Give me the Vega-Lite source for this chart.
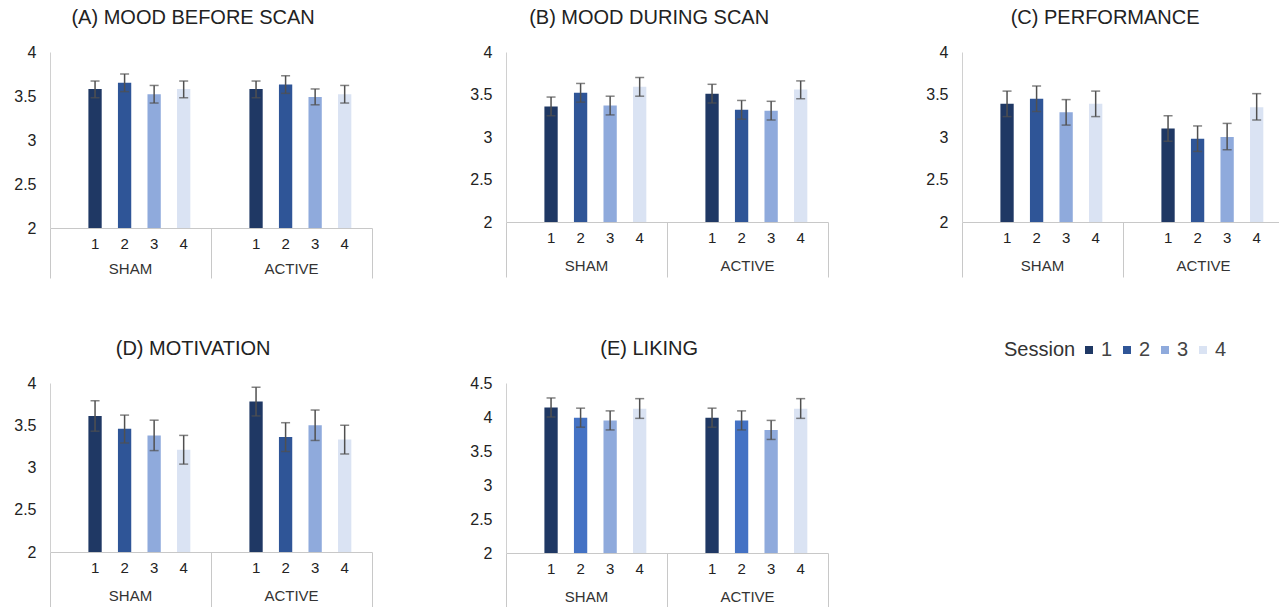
{
  "$schema": "https://vega.github.io/schema/vega-lite/v6.json",
  "padding": {"left": 13, "top": 8, "right": 0, "bottom": 0},
  "data": {"values": [
    {"panel":"A","group":"SHAM","session":"1","mean":3.58,"lo":3.48,"hi":3.67},
    {"panel":"A","group":"SHAM","session":"2","mean":3.65,"lo":3.55,"hi":3.75},
    {"panel":"A","group":"SHAM","session":"3","mean":3.52,"lo":3.42,"hi":3.62},
    {"panel":"A","group":"SHAM","session":"4","mean":3.58,"lo":3.48,"hi":3.67},
    {"panel":"A","group":"ACTIVE","session":"1","mean":3.58,"lo":3.48,"hi":3.67},
    {"panel":"A","group":"ACTIVE","session":"2","mean":3.63,"lo":3.53,"hi":3.73},
    {"panel":"A","group":"ACTIVE","session":"3","mean":3.49,"lo":3.40,"hi":3.58},
    {"panel":"A","group":"ACTIVE","session":"4","mean":3.52,"lo":3.42,"hi":3.62},
    {"panel":"B","group":"SHAM","session":"1","mean":3.36,"lo":3.25,"hi":3.47},
    {"panel":"B","group":"SHAM","session":"2","mean":3.52,"lo":3.41,"hi":3.63},
    {"panel":"B","group":"SHAM","session":"3","mean":3.37,"lo":3.26,"hi":3.48},
    {"panel":"B","group":"SHAM","session":"4","mean":3.59,"lo":3.48,"hi":3.70},
    {"panel":"B","group":"ACTIVE","session":"1","mean":3.51,"lo":3.40,"hi":3.62},
    {"panel":"B","group":"ACTIVE","session":"2","mean":3.32,"lo":3.21,"hi":3.43},
    {"panel":"B","group":"ACTIVE","session":"3","mean":3.31,"lo":3.20,"hi":3.42},
    {"panel":"B","group":"ACTIVE","session":"4","mean":3.56,"lo":3.45,"hi":3.66},
    {"panel":"C","group":"SHAM","session":"1","mean":3.39,"lo":3.24,"hi":3.54},
    {"panel":"C","group":"SHAM","session":"2","mean":3.45,"lo":3.30,"hi":3.60},
    {"panel":"C","group":"SHAM","session":"3","mean":3.29,"lo":3.14,"hi":3.44},
    {"panel":"C","group":"SHAM","session":"4","mean":3.39,"lo":3.24,"hi":3.54},
    {"panel":"C","group":"ACTIVE","session":"1","mean":3.10,"lo":2.95,"hi":3.25},
    {"panel":"C","group":"ACTIVE","session":"2","mean":2.98,"lo":2.83,"hi":3.13},
    {"panel":"C","group":"ACTIVE","session":"3","mean":3.00,"lo":2.85,"hi":3.16},
    {"panel":"C","group":"ACTIVE","session":"4","mean":3.35,"lo":3.20,"hi":3.51},
    {"panel":"D","group":"SHAM","session":"1","mean":3.61,"lo":3.43,"hi":3.79},
    {"panel":"D","group":"SHAM","session":"2","mean":3.46,"lo":3.29,"hi":3.62},
    {"panel":"D","group":"SHAM","session":"3","mean":3.38,"lo":3.20,"hi":3.56},
    {"panel":"D","group":"SHAM","session":"4","mean":3.21,"lo":3.04,"hi":3.38},
    {"panel":"D","group":"ACTIVE","session":"1","mean":3.78,"lo":3.61,"hi":3.95},
    {"panel":"D","group":"ACTIVE","session":"2","mean":3.36,"lo":3.19,"hi":3.53},
    {"panel":"D","group":"ACTIVE","session":"3","mean":3.50,"lo":3.32,"hi":3.68},
    {"panel":"D","group":"ACTIVE","session":"4","mean":3.33,"lo":3.16,"hi":3.50},
    {"panel":"E","group":"SHAM","session":"1","mean":4.14,"lo":4.00,"hi":4.28},
    {"panel":"E","group":"SHAM","session":"2","mean":3.99,"lo":3.85,"hi":4.13},
    {"panel":"E","group":"SHAM","session":"3","mean":3.95,"lo":3.81,"hi":4.09},
    {"panel":"E","group":"SHAM","session":"4","mean":4.12,"lo":3.98,"hi":4.27},
    {"panel":"E","group":"ACTIVE","session":"1","mean":3.99,"lo":3.85,"hi":4.13},
    {"panel":"E","group":"ACTIVE","session":"2","mean":3.95,"lo":3.81,"hi":4.09},
    {"panel":"E","group":"ACTIVE","session":"3","mean":3.81,"lo":3.67,"hi":3.95},
    {"panel":"E","group":"ACTIVE","session":"4","mean":4.12,"lo":3.98,"hi":4.27}
  ]},
  "columns": 3,
  "spacing": {"row": 60, "column": 96},
  "concat": [
    {
      "title": "(A) MOOD BEFORE SCAN",
      "width": 322, "height": 176,
      "transform": [{"filter": "datum.panel === 'A'"}],
      "encoding": {"x": {"field": "group", "type": "nominal", "sort": ["SHAM","ACTIVE"], "scale": {"paddingInner": 0, "paddingOuter": 0}, "axis": {"title": null, "labels": false, "tickBand": "extent", "tickSize": 50, "tickColor": "#c8c8c8", "domainColor": "#c8c8c8"}}},
      "layer": [
        {"mark": {"type": "bar"}, "encoding": {
          "xOffset": {"field": "session", "type": "nominal", "scale": {"paddingInner": 0.55, "paddingOuter": 1.05, "align": 0.65}},
          "y": {"field": "mean", "type": "quantitative", "title": null, "scale": {"domain": [2, 4], "nice": false, "zero": false}, "axis": {"values": [2, 2.5, 3, 3.5, 4], "labelExpr": "'' + datum.value"}},
          "y2": {"datum": 2},
          "color": {"condition": {"test": "datum.panel === 'E' && datum.session === '2'", "value": "#4472c4"}, "field": "session", "type": "nominal", "title": "Session", "scale": {"domain": ["1","2","3","4"], "range": ["#1f3864","#2f5597","#8faadc","#dae3f3"]}}}},
        {"mark": {"type": "rule", "color": "#505050", "strokeWidth": 1.5}, "encoding": {"xOffset": {"field": "session", "type": "nominal"}, "y": {"field": "lo", "type": "quantitative", "title": null}, "y2": {"field": "hi"}}},
        {"mark": {"type": "tick", "color": "#505050", "thickness": 1.5, "size": 9}, "encoding": {"xOffset": {"field": "session", "type": "nominal"}, "y": {"field": "lo", "type": "quantitative", "title": null}}},
        {"mark": {"type": "tick", "color": "#505050", "thickness": 1.5, "size": 9}, "encoding": {"xOffset": {"field": "session", "type": "nominal"}, "y": {"field": "hi", "type": "quantitative", "title": null}}},
        {"mark": {"type": "text", "dy": 16, "fontSize": 15, "color": "#222222"}, "encoding": {"xOffset": {"field": "session", "type": "nominal"}, "y": {"datum": 2}, "text": {"field": "session"}}},
        {"transform": [{"filter": "datum.session === '1'"}], "mark": {"type": "text", "dy": 41, "fontSize": 15, "color": "#333333"}, "encoding": {"y": {"datum": 2}, "text": {"field": "group"}}}
      ]
    },
    {
      "title": "(B) MOOD DURING SCAN",
      "width": 322, "height": 170,
      "transform": [{"filter": "datum.panel === 'B'"}],
      "encoding": {"x": {"field": "group", "type": "nominal", "sort": ["SHAM","ACTIVE"], "scale": {"paddingInner": 0, "paddingOuter": 0}, "axis": {"title": null, "labels": false, "tickBand": "extent", "tickSize": 55, "tickColor": "#c8c8c8", "domainColor": "#c8c8c8"}}},
      "layer": [
        {"mark": {"type": "bar"}, "encoding": {
          "xOffset": {"field": "session", "type": "nominal", "scale": {"paddingInner": 0.55, "paddingOuter": 1.05, "align": 0.65}},
          "y": {"field": "mean", "type": "quantitative", "title": null, "scale": {"domain": [2, 4], "nice": false, "zero": false}, "axis": {"values": [2, 2.5, 3, 3.5, 4], "labelExpr": "'' + datum.value"}},
          "y2": {"datum": 2},
          "color": {"condition": {"test": "datum.panel === 'E' && datum.session === '2'", "value": "#4472c4"}, "field": "session", "type": "nominal", "title": "Session", "scale": {"domain": ["1","2","3","4"], "range": ["#1f3864","#2f5597","#8faadc","#dae3f3"]}}}},
        {"mark": {"type": "rule", "color": "#505050", "strokeWidth": 1.5}, "encoding": {"xOffset": {"field": "session", "type": "nominal"}, "y": {"field": "lo", "type": "quantitative", "title": null}, "y2": {"field": "hi"}}},
        {"mark": {"type": "tick", "color": "#505050", "thickness": 1.5, "size": 9}, "encoding": {"xOffset": {"field": "session", "type": "nominal"}, "y": {"field": "lo", "type": "quantitative", "title": null}}},
        {"mark": {"type": "tick", "color": "#505050", "thickness": 1.5, "size": 9}, "encoding": {"xOffset": {"field": "session", "type": "nominal"}, "y": {"field": "hi", "type": "quantitative", "title": null}}},
        {"mark": {"type": "text", "dy": 16, "fontSize": 15, "color": "#222222"}, "encoding": {"xOffset": {"field": "session", "type": "nominal"}, "y": {"datum": 2}, "text": {"field": "session"}}},
        {"transform": [{"filter": "datum.session === '1'"}], "mark": {"type": "text", "dy": 44, "fontSize": 15, "color": "#333333"}, "encoding": {"y": {"datum": 2}, "text": {"field": "group"}}}
      ]
    },
    {
      "title": "(C) PERFORMANCE",
      "width": 322, "height": 170,
      "transform": [{"filter": "datum.panel === 'C'"}],
      "encoding": {"x": {"field": "group", "type": "nominal", "sort": ["SHAM","ACTIVE"], "scale": {"paddingInner": 0, "paddingOuter": 0}, "axis": {"title": null, "labels": false, "tickBand": "extent", "tickSize": 55, "tickColor": "#c8c8c8", "domainColor": "#c8c8c8"}}},
      "layer": [
        {"mark": {"type": "bar"}, "encoding": {
          "xOffset": {"field": "session", "type": "nominal", "scale": {"paddingInner": 0.55, "paddingOuter": 1.05, "align": 0.65}},
          "y": {"field": "mean", "type": "quantitative", "title": null, "scale": {"domain": [2, 4], "nice": false, "zero": false}, "axis": {"values": [2, 2.5, 3, 3.5, 4], "labelExpr": "'' + datum.value"}},
          "y2": {"datum": 2},
          "color": {"condition": {"test": "datum.panel === 'E' && datum.session === '2'", "value": "#4472c4"}, "field": "session", "type": "nominal", "title": "Session", "scale": {"domain": ["1","2","3","4"], "range": ["#1f3864","#2f5597","#8faadc","#dae3f3"]}}}},
        {"mark": {"type": "rule", "color": "#505050", "strokeWidth": 1.5}, "encoding": {"xOffset": {"field": "session", "type": "nominal"}, "y": {"field": "lo", "type": "quantitative", "title": null}, "y2": {"field": "hi"}}},
        {"mark": {"type": "tick", "color": "#505050", "thickness": 1.5, "size": 9}, "encoding": {"xOffset": {"field": "session", "type": "nominal"}, "y": {"field": "lo", "type": "quantitative", "title": null}}},
        {"mark": {"type": "tick", "color": "#505050", "thickness": 1.5, "size": 9}, "encoding": {"xOffset": {"field": "session", "type": "nominal"}, "y": {"field": "hi", "type": "quantitative", "title": null}}},
        {"mark": {"type": "text", "dy": 16, "fontSize": 15, "color": "#222222"}, "encoding": {"xOffset": {"field": "session", "type": "nominal"}, "y": {"datum": 2}, "text": {"field": "session"}}},
        {"transform": [{"filter": "datum.session === '1'"}], "mark": {"type": "text", "dy": 44, "fontSize": 15, "color": "#333333"}, "encoding": {"y": {"datum": 2}, "text": {"field": "group"}}}
      ]
    },
    {
      "title": "(D) MOTIVATION",
      "width": 322, "height": 169,
      "transform": [{"filter": "datum.panel === 'D'"}],
      "encoding": {"x": {"field": "group", "type": "nominal", "sort": ["SHAM","ACTIVE"], "scale": {"paddingInner": 0, "paddingOuter": 0}, "axis": {"title": null, "labels": false, "tickBand": "extent", "tickSize": 55, "tickColor": "#c8c8c8", "domainColor": "#c8c8c8"}}},
      "layer": [
        {"mark": {"type": "bar"}, "encoding": {
          "xOffset": {"field": "session", "type": "nominal", "scale": {"paddingInner": 0.55, "paddingOuter": 1.05, "align": 0.65}},
          "y": {"field": "mean", "type": "quantitative", "title": null, "scale": {"domain": [2, 4], "nice": false, "zero": false}, "axis": {"values": [2, 2.5, 3, 3.5, 4], "labelExpr": "'' + datum.value"}},
          "y2": {"datum": 2},
          "color": {"condition": {"test": "datum.panel === 'E' && datum.session === '2'", "value": "#4472c4"}, "field": "session", "type": "nominal", "title": "Session", "scale": {"domain": ["1","2","3","4"], "range": ["#1f3864","#2f5597","#8faadc","#dae3f3"]}}}},
        {"mark": {"type": "rule", "color": "#505050", "strokeWidth": 1.5}, "encoding": {"xOffset": {"field": "session", "type": "nominal"}, "y": {"field": "lo", "type": "quantitative", "title": null}, "y2": {"field": "hi"}}},
        {"mark": {"type": "tick", "color": "#505050", "thickness": 1.5, "size": 9}, "encoding": {"xOffset": {"field": "session", "type": "nominal"}, "y": {"field": "lo", "type": "quantitative", "title": null}}},
        {"mark": {"type": "tick", "color": "#505050", "thickness": 1.5, "size": 9}, "encoding": {"xOffset": {"field": "session", "type": "nominal"}, "y": {"field": "hi", "type": "quantitative", "title": null}}},
        {"mark": {"type": "text", "dy": 16, "fontSize": 15, "color": "#222222"}, "encoding": {"xOffset": {"field": "session", "type": "nominal"}, "y": {"datum": 2}, "text": {"field": "session"}}},
        {"transform": [{"filter": "datum.session === '1'"}], "mark": {"type": "text", "dy": 44, "fontSize": 15, "color": "#333333"}, "encoding": {"y": {"datum": 2}, "text": {"field": "group"}}}
      ]
    },
    {
      "title": "(E) LIKING",
      "width": 322, "height": 170,
      "transform": [{"filter": "datum.panel === 'E'"}],
      "encoding": {"x": {"field": "group", "type": "nominal", "sort": ["SHAM","ACTIVE"], "scale": {"paddingInner": 0, "paddingOuter": 0}, "axis": {"title": null, "labels": false, "tickBand": "extent", "tickSize": 55, "tickColor": "#c8c8c8", "domainColor": "#c8c8c8"}}},
      "layer": [
        {"mark": {"type": "bar"}, "encoding": {
          "xOffset": {"field": "session", "type": "nominal", "scale": {"paddingInner": 0.55, "paddingOuter": 1.05, "align": 0.65}},
          "y": {"field": "mean", "type": "quantitative", "title": null, "scale": {"domain": [2, 4.5], "nice": false, "zero": false}, "axis": {"values": [2, 2.5, 3, 3.5, 4, 4.5], "tickCount": 6, "labelExpr": "'' + datum.value"}},
          "y2": {"datum": 2},
          "color": {"condition": {"test": "datum.panel === 'E' && datum.session === '2'", "value": "#4472c4"}, "field": "session", "type": "nominal", "title": "Session", "scale": {"domain": ["1","2","3","4"], "range": ["#1f3864","#2f5597","#8faadc","#dae3f3"]}}}},
        {"mark": {"type": "rule", "color": "#505050", "strokeWidth": 1.5}, "encoding": {"xOffset": {"field": "session", "type": "nominal"}, "y": {"field": "lo", "type": "quantitative", "title": null, "axis": {"values": [2, 2.5, 3, 3.5, 4, 4.5], "tickCount": 6, "labelExpr": "'' + datum.value"}}, "y2": {"field": "hi"}}},
        {"mark": {"type": "tick", "color": "#505050", "thickness": 1.5, "size": 9}, "encoding": {"xOffset": {"field": "session", "type": "nominal"}, "y": {"field": "lo", "type": "quantitative", "title": null, "axis": {"values": [2, 2.5, 3, 3.5, 4, 4.5], "tickCount": 6, "labelExpr": "'' + datum.value"}}}},
        {"mark": {"type": "tick", "color": "#505050", "thickness": 1.5, "size": 9}, "encoding": {"xOffset": {"field": "session", "type": "nominal"}, "y": {"field": "hi", "type": "quantitative", "title": null, "axis": {"values": [2, 2.5, 3, 3.5, 4, 4.5], "tickCount": 6, "labelExpr": "'' + datum.value"}}}},
        {"mark": {"type": "text", "dy": 16, "fontSize": 15, "color": "#222222"}, "encoding": {"xOffset": {"field": "session", "type": "nominal"}, "y": {"datum": 2}, "text": {"field": "session"}}},
        {"transform": [{"filter": "datum.session === '1'"}], "mark": {"type": "text", "dy": 44, "fontSize": 15, "color": "#333333"}, "encoding": {"y": {"datum": 2}, "text": {"field": "group"}}}
      ]
    }
  ],
  "config": {
    "font": "Liberation Sans",
    "view": {"stroke": null},
    "title": {"fontSize": 20, "fontWeight": "normal", "color": "#222222", "anchor": "middle", "frame": "bounds", "offset": 16},
    "axisY": {"grid": false, "ticks": false, "domainColor": "#d0d0d0", "labelFontSize": 16, "labelColor": "#222222", "labelPadding": 14, "labelOverlap": false},
    "legend": {"orient": "none", "legendX": 954, "legendY": 288, "direction": "horizontal", "titleOrient": "left", "titleFontSize": 20, "titleFontWeight": "normal", "titleColor": "#333333", "labelFontSize": 20, "labelColor": "#444444", "symbolType": "square", "symbolSize": 64, "symbolStrokeWidth": 0, "columnPadding": 4, "labelOffset": 2, "titlePadding": 3, "titleBaseline": "middle"}
  }
}
